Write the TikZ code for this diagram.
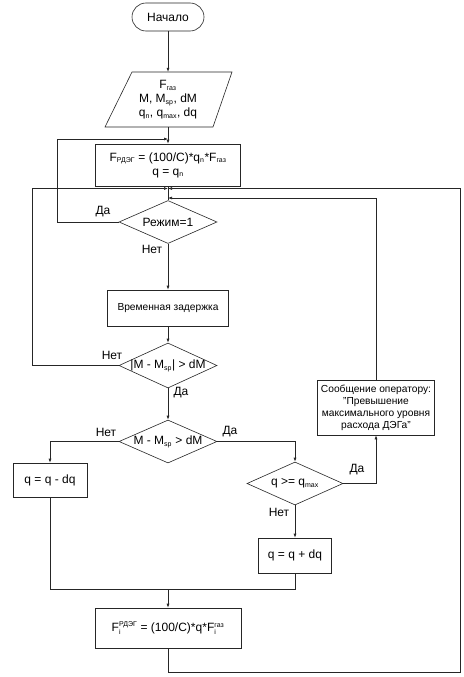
\documentclass[tikz,border=0pt]{standalone}
\usepackage{fontspec}
\setmainfont{Liberation Sans}
\usetikzlibrary{shapes.geometric,arrows.meta}
\newcommand\mysub[1]{\mbox{\fontsize{7}{7}\selectfont #1}}
\begin{document}
\begin{tikzpicture}[x=1pt,y=-1pt,
  font=\fontsize{12}{14}\selectfont,
  line/.style={draw=black!85, line width=0.6pt},
  arr/.style={line, -{Latex[length=4pt,width=3pt]}},
  box/.style={draw=black!85, line width=0.6pt, rectangle, inner sep=0pt, align=center},
  dia/.style={draw=black!85, line width=0.6pt, diamond, inner sep=0pt},
  lbl/.style={inner sep=0pt, align=center},
  small/.style={font=\fontsize{10.2}{12}\selectfont}
]
\useasboundingbox[fill=white] (0,0) rectangle (463,677);

% nodes
\node[box, rounded corners=14pt, minimum width=72pt, minimum height=28pt] (start) at (168,17) {Начало};
\node[lbl, minimum width=80pt, minimum height=55pt] (inp) at (168,99.5)
  {F$_{\mysub{газ}}$\\ M, M$_{\mysub{sp}}$, dM\\ q$_{\mysub{n}}$, q$_{\mysub{max}}$, dq};
\draw[line] (132,72) -- (232,72) -- (213,127) -- (105,127) -- cycle;
\node[box, minimum width=145pt, minimum height=42pt] (box1) at (168,165)
  {F$_{\mysub{РДЭГ}}$ = (100/C)*q$_{\mysub{n}}$*F$_{\mysub{газ}}$\\ q = q$_{\mysub{n}}$};
\node[dia, minimum width=98pt, minimum height=43pt, label={[lbl]center:Режим=1}] (d1) at (168,222) {};
\node[box, small, minimum width=121pt, minimum height=36pt] (delay) at (168,308) {Временная задержка};
\node[dia, minimum width=98pt, minimum height=45pt, label={[lbl]center:|M - M$_{\mysub{sp}}$| > dM}] (d2) at (168,365.5) {};
\node[dia, minimum width=98pt, minimum height=43pt, label={[lbl]center:M - M$_{\mysub{sp}}$ > dM}] (d3) at (168,441.5) {};
\node[box, minimum width=74pt, minimum height=34pt] (qdec) at (50,480) {q = q - dq};
\node[dia, minimum width=96pt, minimum height=43pt, label={[lbl]center:q >= q$_{\mysub{max}}$}] (d4) at (295,483.5) {};
\node[box, small, minimum width=117pt, minimum height=55pt] (msg) at (376,407.5)
  {Сообщение оператору:\\ "Превышение\\ максимального уровня\\ расхода ДЭГа"};
\node[box, minimum width=73pt, minimum height=35pt] (qinc) at (295,555.5) {q = q + dq};
\node[box, minimum width=146pt, minimum height=40pt] (final) at (168,628)
  {F$_{\mysub{i}}^{\mysub{РДЭГ}}$ = (100/C)*q*F$_{\mysub{i}}^{\mysub{газ}}$};

% coordinates
\coordinate (j1) at (168,139);
\coordinate (c1) at (57,139);
\coordinate (j2) at (168,188.5);
\coordinate (c2) at (32,188.5);
\coordinate (j3) at (168,198);
\coordinate (c3) at (460,672);
\coordinate (m) at (168,589);

% connectors
\draw[arr] (start.south) -- (inp.north);
\draw[arr] (inp.south) -- (box1.north);
\draw[arr] (d1.west) -| (c1) -- (j1);
\draw[line] (box1.south) -- (d1.north);
\draw[arr] (d2.west) -| (c2) -- (j2);
\draw[arr] (final.south) |- (c3) |- (j2);
\draw[arr] (msg.north) |- (j3);
\draw[arr] (d1.south) -- (delay.north);
\draw[arr] (delay.south) -- (d2.north);
\draw[arr] (d2.south) -- (d3.north);
\draw[arr] (d3.west) -| (qdec.north);
\draw[arr] (d3.east) -| (d4.north);
\draw[arr] (d4.east) -| (msg.south);
\draw[arr] (d4.south) -- (qinc.north);
\draw[line] (qdec.south) |- (m);
\draw[line] (qinc.south) |- (m);
\draw[arr] (m) -- (final.north);

% labels
\node[lbl] (l1) at (103,212) {Да};
\node[lbl] (l2) at (152,249) {Нет};
\node[lbl] (l3) at (112,355) {Нет};
\node[lbl] (l4) at (181,393) {Да};
\node[lbl] (l5) at (106,432) {Нет};
\node[lbl] (l6) at (230,432) {Да};
\node[lbl] (l7) at (357,470) {Да};
\node[lbl] (l8) at (279,512) {Нет};
\end{tikzpicture}
\end{document}
